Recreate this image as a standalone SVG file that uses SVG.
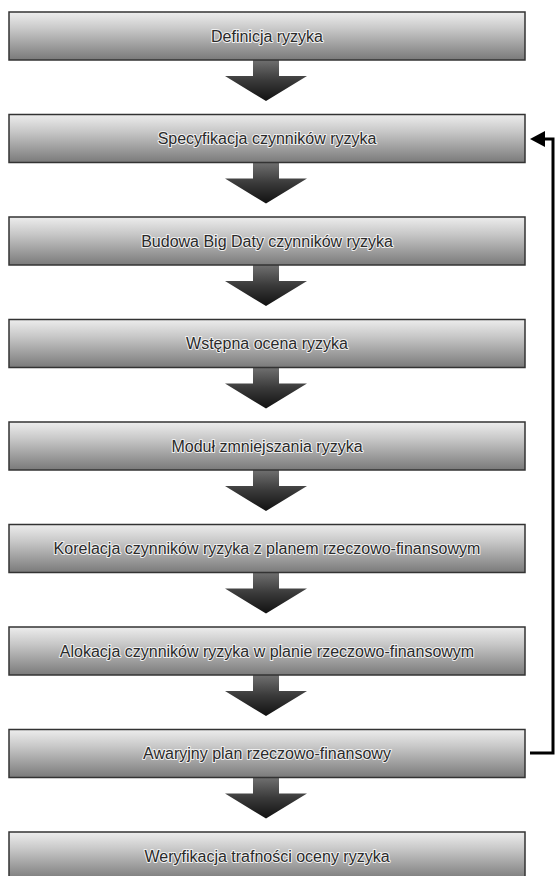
<svg xmlns="http://www.w3.org/2000/svg" width="556" height="876" viewBox="0 0 556 876">
<defs>
<linearGradient id="boxg" x1="0" y1="0" x2="0" y2="1">
<stop offset="0" stop-color="#ededed"/>
<stop offset="0.35" stop-color="#c8c8c8"/>
<stop offset="1" stop-color="#7a7a7a"/>
</linearGradient>
<linearGradient id="arrg" x1="0" y1="0" x2="0" y2="1">
<stop offset="0" stop-color="#707070"/>
<stop offset="0.5" stop-color="#3a3a3a"/>
<stop offset="1" stop-color="#111111"/>
</linearGradient>
<path id="bigarrow" d="M253,0 L279,0 L279,16 L307,16 L266,41 L225,16 L253,16 z"/>
</defs>
<style>
.box{fill:url(#boxg);stroke:#333;stroke-width:1.5}
.lbl{font-family:"Liberation Sans",Arial,sans-serif;font-size:16px;fill:#2a2a2a;text-anchor:middle;paint-order:stroke;stroke:#f0f0f0;stroke-width:2px;stroke-linejoin:round}
.arr{fill:url(#arrg)}
.fb{fill:none;stroke:#000;stroke-width:3}
</style>
<g id="connectors">
<use href="#bigarrow" class="arr" transform="translate(0,60)"/>
<use href="#bigarrow" class="arr" transform="translate(0,162.5)"/>
<use href="#bigarrow" class="arr" transform="translate(0,265)"/>
<use href="#bigarrow" class="arr" transform="translate(0,367.5)"/>
<use href="#bigarrow" class="arr" transform="translate(0,470)"/>
<use href="#bigarrow" class="arr" transform="translate(0,572.5)"/>
<use href="#bigarrow" class="arr" transform="translate(0,675)"/>
<use href="#bigarrow" class="arr" transform="translate(0,777.5)"/>
<path class="fb" d="M530,753 L553,753 L553,139 L540,139"/>
<path d="M530,139 L545,131 L545,147 z" fill="#000"/>
</g>
<g id="n1"><rect class="box" x="9" y="12" width="516" height="48"/><text class="lbl" x="267" y="41.5">Definicja ryzyka</text></g>
<g id="n2"><rect class="box" x="9" y="114.5" width="516" height="48"/><text class="lbl" x="267" y="144">Specyfikacja czynników ryzyka</text></g>
<g id="n3"><rect class="box" x="9" y="217" width="516" height="48"/><text class="lbl" x="267" y="246.5">Budowa Big Daty czynników ryzyka</text></g>
<g id="n4"><rect class="box" x="9" y="319.5" width="516" height="48"/><text class="lbl" x="267" y="349">Wstępna ocena ryzyka</text></g>
<g id="n5"><rect class="box" x="9" y="422" width="516" height="48"/><text class="lbl" x="267" y="451.5">Moduł zmniejszania ryzyka</text></g>
<g id="n6"><rect class="box" x="9" y="524.5" width="516" height="48"/><text class="lbl" x="267" y="554">Korelacja czynników ryzyka z planem rzeczowo-finansowym</text></g>
<g id="n7"><rect class="box" x="9" y="627" width="516" height="48"/><text class="lbl" x="267" y="656.5">Alokacja czynników ryzyka w planie rzeczowo-finansowym</text></g>
<g id="n8"><rect class="box" x="9" y="729.5" width="516" height="48"/><text class="lbl" x="267" y="759">Awaryjny plan rzeczowo-finansowy</text></g>
<g id="n9"><rect class="box" x="9" y="832" width="516" height="48"/><text class="lbl" x="267" y="861.5">Weryfikacja trafności oceny ryzyka</text></g>
</svg>
